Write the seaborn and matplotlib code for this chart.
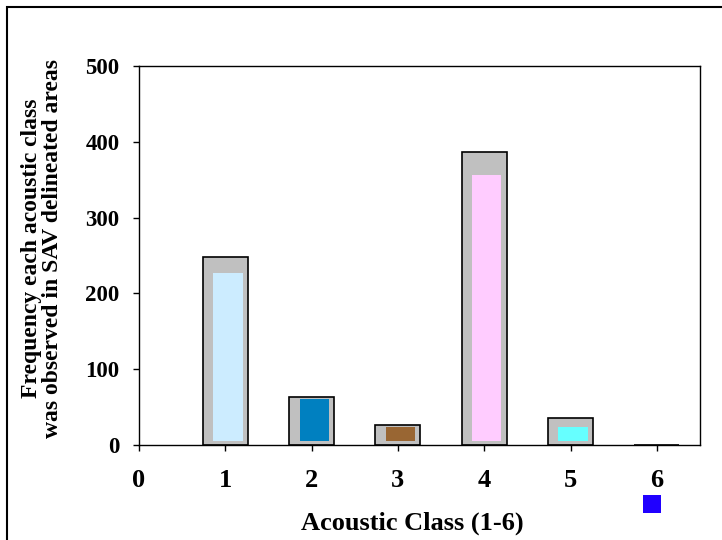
import matplotlib
matplotlib.use("Agg")
import matplotlib.pyplot as plt
import seaborn as sns
import numpy as np
import pandas as pd
from matplotlib.patches import Rectangle

# Frequency of each acoustic class inside SAV delineated areas
classes = [1, 2, 3, 4, 5, 6]
totals = [248, 63, 27, 386, 35, 0]
inner_tops = [227, 61, 24, 356, 24, 0]
inner_base = 5
inner_colors = ["#CCECFF", "#0080C0", "#996633", "#FFCCFF", "#66FFFF", "#2000FF"]
x_ticks = [0, 1, 2, 3, 4, 5, 6]
y_ticks = [0, 100, 200, 300, 400, 500]

sns.set_theme(style="white")
plt.rcParams["font.family"] = ["Liberation Serif", "DejaVu Serif"]
plt.rcParams["font.weight"] = "bold"
plt.rcParams["text.color"] = "black"
plt.rcParams["axes.labelcolor"] = "black"
plt.rcParams["xtick.color"] = "black"
plt.rcParams["ytick.color"] = "black"

fig = plt.figure(figsize=(7.22, 5.40), dpi=100)
ax = fig.add_axes([139 / 722, 95 / 540, 561 / 722, 379 / 540])

df = pd.DataFrame({"cls": classes, "total": totals})
sns.barplot(data=df, x="cls", y="total", native_scale=True, width=0.52,
            color="#C0C0C0", edgecolor="black", linewidth=1.2,
            saturation=1, ax=ax)

# inner coloured bars for classes 1-5
for c, top, col in zip(classes[:5], inner_tops[:5], inner_colors[:5]):
    ax.bar(c + 0.03, top - inner_base, bottom=inner_base, width=0.34,
           color=col, edgecolor="none", zorder=3)

# class 6 marker drawn beneath the axis
ax.scatter([5.94], [-78], marker="s", s=150, color=inner_colors[5],
           linewidths=0, clip_on=False, zorder=5)

ax.set_xlim(0, 6.5)
ax.set_ylim(0, 500)
ax.set_xticks(x_ticks)
ax.set_yticks(y_ticks)
ax.set_xticklabels([str(t) for t in x_ticks], fontsize=19, fontweight="bold")
ax.set_yticklabels([str(t) for t in y_ticks], fontsize=16.5, fontweight="bold")
ax.tick_params(axis="x", direction="out", length=4.5, width=1, color="black",
               pad=13, bottom=True)
ax.tick_params(axis="y", direction="out", length=4.5, width=1, color="black",
               pad=9.5, left=True)
for s in ax.spines.values():
    s.set_color("black")
    s.set_linewidth(1)

ax.set_xlabel("Acoustic Class (1-6)", fontsize=19, fontweight="bold")
ax.xaxis.set_label_coords(0.487, -0.175)
ax.set_ylabel("Frequency each acoustic class\nwas observed in SAV delineated areas",
              fontsize=17, fontweight="bold", linespacing=1.0)
ax.yaxis.set_label_coords(-0.135, 0.518)

# outer frame around the chart area
fig.add_artist(Rectangle((7 / 722, -0.1), 1.0, (533 / 540) + 0.1,
                         transform=fig.transFigure, fill=False,
                         edgecolor="black", linewidth=1.5))

fig.savefig("out.png", dpi=100)
